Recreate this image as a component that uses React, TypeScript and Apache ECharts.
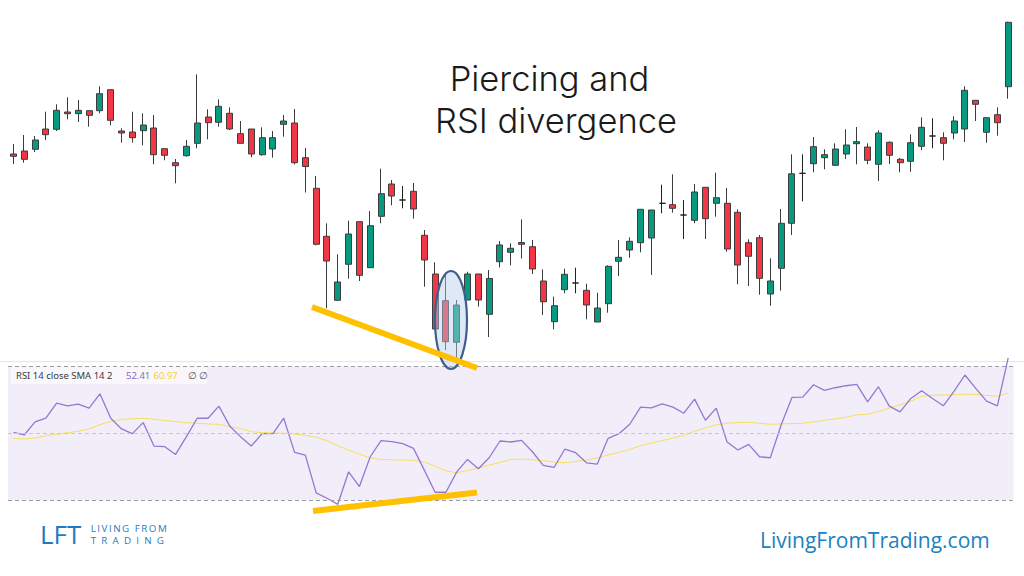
import React, { useEffect, useRef } from "react";
import * as echarts from "echarts";

// Price candles (open, close, low, high) – arbitrary price units
const opens = [
  246.0, 249.0, 250.7, 271.0, 270.7, 288.0, 286.3, 289.3, 289.3, 310.3,
  269.0, 268.0, 269.3, 272.0, 251.3, 237.3, 244.3, 256.7, 283.0, 277.7,
  286.7, 266.3, 271.0, 245.3, 251.0, 275.7, 277.0, 242.3, 211.7, 163.7,
  99.7, 135.7, 178.3, 132.3, 183.7, 216.0, 200.0, 208.7, 164.7, 126.0,
  99.3, 57.7, 100.0, 126.0, 85.7, 138.3, 147.7, 157.5, 153.3, 119.0,
  78.3, 110.3, 117.0, 109.7, 78.0, 96.3, 138.7, 150.0, 157.3, 162.0,
  196.7, 195.3, 185.0, 179.7, 212.7, 196.7, 196.7, 187.7, 157.3, 162.3,
  106.0, 131.7, 176.7, 226.7, 236.3, 242.3, 234.7, 246.0, 256.3, 253.0,
  235.7, 257.7, 240.7, 238.7, 253.7, 264.0, 262.3, 267.0, 271.0, 299.7,
  267.7, 285.3, 313.3,
];
const closes = [
  243.7, 240.7, 260.0, 265.3, 289.7, 286.3, 289.7, 284.7, 306.3, 279.7,
  267.0, 262.3, 275.0, 245.3, 244.7, 234.3, 253.7, 277.0, 277.3, 293.7,
  271.0, 256.7, 246.0, 262.3, 262.3, 279.0, 237.3, 233.5, 155.7, 139.0,
  118.0, 166.0, 124.7, 174.3, 206.3, 204.0, 200.0, 191.0, 140.0, 71.0,
  58.3, 95.0, 126.0, 100.0, 121.5, 155.0, 151.7, 155.7, 131.0, 98.3,
  94.3, 125.7, 117.0, 95.0, 92.0, 133.7, 142.7, 158.7, 190.7, 190.0,
  196.7, 191.7, 185.0, 208.0, 181.3, 202.3, 151.0, 135.0, 143.7, 121.7,
  119.0, 176.7, 226.2, 226.7, 253.3, 245.3, 251.0, 255.0, 258.3, 239.7,
  267.0, 244.7, 237.3, 257.3, 272.7, 264.0, 256.7, 279.0, 309.7, 295.7,
  282.3, 277.3, 377.7,
];
const lows = [
  236.0, 237.3, 248.0, 260.0, 269.0, 280.7, 278.0, 273.3, 286.7, 274.7,
  257.3, 257.3, 254.7, 235.7, 239.7, 216.7, 243.3, 251.7, 260.7, 273.3,
  270.0, 256.7, 242.7, 244.3, 242.3, 263.3, 235.7, 207.5, 154.7, 91.7,
  99.7, 121.3, 119.0, 132.3, 176.7, 194.7, 191.7, 181.3, 113.3, 71.0,
  50.0, 41.7, 100.0, 93.3, 63.0, 132.5, 134.7, 141.5, 126.0, 85.0,
  70.7, 106.7, 106.7, 80.7, 78.0, 87.3, 124.0, 142.3, 147.7, 125.0,
  186.7, 187.3, 161.0, 176.7, 161.0, 183.3, 148.3, 115.7, 114.0, 105.3,
  94.3, 109.3, 165.0, 198.7, 227.7, 230.7, 234.3, 241.0, 235.7, 235.7,
  219.0, 236.0, 227.7, 228.3, 250.0, 251.7, 239.7, 260.7, 258.0, 279.0,
  257.3, 264.3, 301.3,
];
const highs = [
  256.0, 265.0, 264.0, 288.3, 295.7, 302.7, 300.0, 289.3, 313.7, 310.3,
  271.7, 288.3, 286.7, 285.0, 251.3, 241.0, 260.0, 325.7, 290.7, 300.7,
  292.7, 279.0, 271.0, 272.7, 269.0, 285.0, 291.0, 252.0, 224.0, 176.7,
  145.7, 179.3, 178.3, 189.0, 231.3, 220.0, 214.0, 217.0, 170.0, 137.7,
  125.0, 100.0, 128.3, 126.0, 130.0, 159.0, 156.7, 180.7, 160.0, 130.7,
  103.3, 131.3, 132.3, 116.3, 107.3, 134.7, 160.0, 162.7, 190.7, 190.0,
  215.3, 225.7, 200.0, 216.0, 212.7, 227.3, 212.0, 190.7, 160.7, 165.0,
  141.7, 191.0, 245.7, 245.7, 263.0, 250.7, 256.7, 270.7, 273.0, 256.7,
  269.7, 258.7, 242.0, 265.7, 282.7, 281.7, 267.7, 283.7, 313.7, 299.7,
  282.3, 292.7, 378.3,
];

// RSI 14 and its SMA 14
const rsi = [
  50.3, 49.5, 53.4, 54.5, 59.0, 58.2, 58.7, 57.5, 61.8, 54.5,
  51.3, 49.9, 53.2, 46.2, 46.0, 43.7, 49.0, 54.5, 54.5, 58.1,
  52.2, 49.0, 46.2, 49.9, 49.9, 54.5, 44.3, 43.5, 32.2, 30.6,
  28.8, 38.5, 34.1, 43.0, 47.8, 47.5, 46.9, 45.5, 39.0, 32.4,
  32.4, 38.5, 42.2, 39.4, 42.7, 47.7, 47.4, 47.9, 44.5, 40.4,
  39.8, 45.3, 44.2, 41.2, 40.8, 48.5, 49.9, 52.7, 57.8, 57.6,
  58.8, 57.8, 56.0, 60.2, 53.9, 57.5, 47.4, 45.0, 46.7, 43.0,
  42.7, 52.5, 60.7, 60.8, 64.5, 62.8, 63.6, 64.2, 64.6, 59.4,
  63.9, 58.1, 56.4, 60.4, 62.7, 60.4, 58.2, 62.6, 67.4, 63.4,
  59.6, 58.2, 72.5,
];
const rsiSma = [
  48.5, 48.3, 48.6, 49.3, 49.7, 50.2, 50.6, 51.3, 52.6, 53.5,
  54.2, 54.3, 54.5, 54.2, 53.8, 53.5, 53.2, 53.0, 52.8, 52.7,
  52.0, 51.4, 50.5, 50.2, 50.1, 50.0, 49.8, 49.4, 48.8, 47.8,
  46.3, 45.0, 43.8, 42.6, 42.2, 42.1, 42.0, 42.0, 41.4, 40.2,
  38.8, 38.2, 38.9, 39.6, 40.5, 41.3, 42.2, 42.3, 42.1, 41.8,
  41.4, 41.2, 41.6, 42.0, 42.7, 43.5, 44.3, 45.2, 46.3, 47.1,
  47.8, 48.6, 49.4, 50.6, 51.6, 52.5, 53.0, 53.2, 53.3, 53.0,
  52.7, 52.8, 52.9, 53.0, 53.4, 53.9, 54.3, 54.8, 55.5, 55.7,
  56.5, 57.5, 58.5, 59.6, 61.0, 61.4, 61.4, 61.5, 61.7, 61.6,
  61.3, 61.1, 62.0,
];

const rsiBands = [70, 50, 30];
const titleLines = ["Piercing and", "RSI divergence"];
const legendParts = ["RSI 14 close SMA 14 2", "52.41", "60.97", "\u2205 \u2205"];
const logoTexts = ["LFT", "LIVING FROM", "TRADING"];
const siteText = "LivingFromTrading.com";

const categories = opens.map((_, i) => String(i + 1));

export default function App() {
  const ref = useRef<HTMLDivElement | null>(null);

  useEffect(() => {
    if (!ref.current) return;
    const chart = echarts.init(ref.current, undefined, { renderer: "svg" });

    const ohlc = opens.map((o, i) => [o, closes[i], lows[i], highs[i]]);
    const blue = "#1F7BBF";

    const txt = (
      text: string,
      x: number,
      y: number,
      size: number,
      fill: string,
      family: string,
      align: string = "left",
      weight: any = "normal",
      z = 20
    ) => ({
      type: "text",
      x,
      y,
      z,
      silent: true,
      style: {
        text,
        fontSize: size,
        fontFamily: family,
        fontWeight: weight,
        fill,
        align,
        verticalAlign: "middle",
        textAlign: align,
        textVerticalAlign: "middle",
      },
    });

    const option: any = {
      animation: false,
      backgroundColor: "#ffffff",
      grid: [
        { left: 8, right: 10.4, top: 0, height: 360 },
        { left: 8, right: 10.4, top: 358, height: 152 },
      ],
      xAxis: [
        { type: "category", data: categories, gridIndex: 0, show: false, boundaryGap: true },
        { type: "category", data: categories, gridIndex: 1, show: false, boundaryGap: true },
      ],
      yAxis: [
        { type: "value", gridIndex: 0, min: 40, max: 400, show: false, splitLine: { show: false } },
        { type: "value", gridIndex: 1, min: 27.104, max: 72.478, show: false, splitLine: { show: false } },
      ],
      series: [
        {
          type: "candlestick",
          xAxisIndex: 0,
          yAxisIndex: 0,
          data: ohlc,
          barWidth: 6.5,
          z: 3,
          itemStyle: {
            color: "#089981",
            color0: "#F23645",
            borderColor: "#3c3c3c",
            borderColor0: "#3c3c3c",
            borderColorDoji: "#222222",
            borderWidth: 1,
          },
        },
        {
          type: "line",
          xAxisIndex: 1,
          yAxisIndex: 1,
          data: rsiSma,
          symbol: "none",
          z: 3,
          lineStyle: { color: "#F6DF5A", width: 1 },
        },
        {
          type: "line",
          xAxisIndex: 1,
          yAxisIndex: 1,
          data: rsi,
          symbol: "none",
          z: 4,
          lineStyle: { color: "#9478D2", width: 1.3 },
          markArea: {
            silent: true,
            itemStyle: { color: "rgba(126,87,194,0.1)" },
            data: [[{ yAxis: rsiBands[2] }, { yAxis: rsiBands[0] }]],
          },
          markLine: {
            silent: true,
            symbol: ["none", "none"],
            label: { show: false },
            data: [
              { yAxis: rsiBands[0], lineStyle: { color: "#9d9ba6", type: [4, 3], width: 1 } },
              { yAxis: rsiBands[1], lineStyle: { color: "#c9c5d2", type: [4, 3], width: 1 } },
              { yAxis: rsiBands[2], lineStyle: { color: "#9d9ba6", type: [4, 3], width: 1 } },
            ],
          },
        },
      ],
      graphic: [
        {
          type: "line",
          z: 1,
          silent: true,
          shape: { x1: 0, y1: 361.5, x2: 1024, y2: 361.5 },
          style: { stroke: "#E4E3EC", lineWidth: 1 },
        },
        {
          type: "rect",
          z: 5,
          silent: true,
          shape: { x: 11, y: 365, width: 196, height: 19 },
          style: { fill: "rgba(255,255,255,0.55)" },
        },
        txt(legendParts[0], 16, 375.5, 9.5, "#3b3b3b", '"Noto Sans", sans-serif'),
        txt(legendParts[1], 126, 375.5, 9.5, "#8A6BCB", '"Noto Sans", sans-serif'),
        txt(legendParts[2], 153.5, 375.5, 9.5, "#F2CF2E", '"Noto Sans", sans-serif'),
        txt(legendParts[3], 187.5, 375.5, 9.5, "#555555", '"Noto Sans", sans-serif'),
        {
          type: "ellipse",
          z: 30,
          silent: true,
          shape: { cx: 451, cy: 320, rx: 16, ry: 49 },
          style: { fill: "rgba(185,205,232,0.45)", stroke: "#3E5F8E", lineWidth: 2.2 },
        },
        {
          type: "line",
          z: 31,
          silent: true,
          shape: { x1: 312, y1: 307, x2: 477, y2: 368 },
          style: { stroke: "#FFC000", lineWidth: 6 },
        },
        {
          type: "line",
          z: 31,
          silent: true,
          shape: { x1: 313, y1: 511, x2: 477, y2: 492.5 },
          style: { stroke: "#FFC000", lineWidth: 6 },
        },
        txt(titleLines[0], 549.5, 78.8, 34.5, "#1a1a1a", "Inter, sans-serif", "center", 300, 32),
        txt(titleLines[1], 556, 120.6, 34.5, "#1a1a1a", "Inter, sans-serif", "center", 300, 32),
        txt(logoTexts[0], 40, 534, 26, blue, '"Open Sans", sans-serif'),
        txt(logoTexts[1], 90.7, 528.8, 9.8, blue, '"Open Sans", sans-serif'),
        txt(logoTexts[2], 90.7, 540.2, 9.8, blue, '"Open Sans", sans-serif'),
        txt(siteText, 760, 539.5, 21, "#2181C2", '"Open Sans", sans-serif'),
      ],
    };

    chart.setOption(option);

    const applySpacing = () => {
      if (!ref.current) return;
      ref.current.querySelectorAll("text").forEach((t) => {
        if (t.textContent === logoTexts[2]) t.setAttribute("letter-spacing", "5.2");
        if (t.textContent === logoTexts[1]) t.setAttribute("letter-spacing", "1.5");
      });
    };
    applySpacing();
    const timer = window.setTimeout(applySpacing, 50);

    return () => {
      window.clearTimeout(timer);
      chart.dispose();
    };
  }, []);

  return (
    <div
      ref={ref}
      style={{ position: "fixed", left: 0, top: 0, width: 1024, height: 576, background: "#fff" }}
    />
  );
}
